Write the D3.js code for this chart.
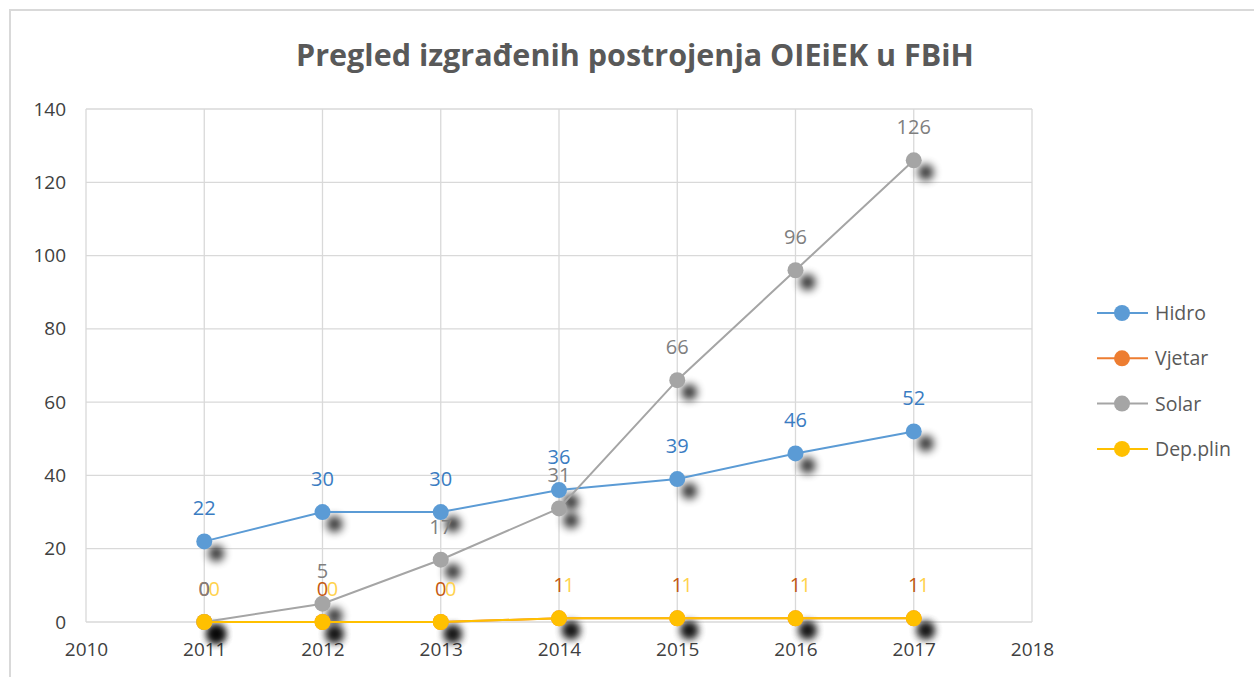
<!DOCTYPE html>
<html><head><meta charset="utf-8">
<script src="https://cdn.jsdelivr.net/npm/d3@7"></script>
<style>body{margin:0;background:#fff}svg{display:block}</style>
</head><body>
<svg id="c" width="1254" height="677"></svg>
<script>
const years = [2011, 2012, 2013, 2014, 2015, 2016, 2017];
const hidro = [22, 30, 30, 36, 39, 46, 52];
const vjetar = [0, 0, 0, 1, 1, 1, 1];
const solar = [0, 5, 17, 31, 66, 96, 126];
const depPlin = [0, 0, 0, 1, 1, 1, 1];
const seriesNames = ["Hidro", "Vjetar", "Solar", "Dep.plin"];
const seriesColors = ["#5b9bd5", "#ed7d31", "#a5a5a5", "#ffc000"];
const labelColors = ["#3a7cc2", "#c55a11", "#7f7f7f", "#ffd24d"];
const xTicks = [2010, 2011, 2012, 2013, 2014, 2015, 2016, 2017, 2018];
const yTicks = [0, 20, 40, 60, 80, 100, 120, 140];
const title = "Pregled izgrađenih postrojenja OIEiEK u FBiH";

const seriesData = [hidro, vjetar, solar, depPlin];
const svg = d3.select("#c");
const font = "'Open Sans', sans-serif";

// chart border
svg.append("path").attr("d", "M10,677 V10 H1254").attr("fill", "none")
  .attr("stroke", "#d9d9d9").attr("stroke-width", 2);

const x = d3.scaleLinear().domain([2010, 2018]).range([86, 1032]);
const y = d3.scaleLinear().domain([0, 140]).range([622, 109]);

const defs = svg.append("defs");
const f = defs.append("filter").attr("id", "sh").attr("x", "-100%").attr("y", "-100%").attr("width", "400%").attr("height", "400%");
f.append("feGaussianBlur").attr("in", "SourceAlpha").attr("stdDeviation", 4).attr("result", "b");
f.append("feOffset").attr("in", "b").attr("dx", 12).attr("dy", 12).attr("result", "o");
f.append("feComponentTransfer").attr("in", "o").append("feFuncA").attr("type", "linear").attr("slope", 0.8);

// gridlines
const g = svg.append("g");
g.selectAll("line.h").data(yTicks).join("line")
  .attr("x1", x(2010)).attr("x2", x(2018)).attr("y1", d => y(d)).attr("y2", d => y(d))
  .attr("stroke", "#d9d9d9").attr("stroke-width", 1.3);
g.selectAll("line.v").data(xTicks).join("line")
  .attr("y1", y(0)).attr("y2", y(140)).attr("x1", d => x(d)).attr("x2", d => x(d))
  .attr("stroke", "#d9d9d9").attr("stroke-width", 1.3);

// axes
const yAxis = d3.axisLeft(y).tickValues(yTicks).tickSize(0).tickPadding(20);
const ya = svg.append("g").attr("transform", `translate(${x(2010)},0)`).call(yAxis);
ya.select(".domain").remove();
ya.selectAll("text").attr("font-family", font).attr("font-size", 19).attr("fill", "#404040");

const xAxis = d3.axisBottom(x).tickValues(xTicks).tickFormat(d3.format("d")).tickSize(0).tickPadding(21);
const xa = svg.append("g").attr("transform", `translate(0,${y(0)})`).call(xAxis);
xa.select(".domain").remove();
xa.selectAll("text").attr("font-family", font).attr("font-size", 19).attr("fill", "#404040");

// title
svg.append("text").attr("x", 635).attr("y", 66).attr("text-anchor", "middle")
  .attr("font-family", font).attr("font-weight", 700).attr("font-size", 30.5)
  .attr("fill", "#595959").text(title);

const line = d3.line().x((d, i) => x(years[i])).y(d => y(d));

// shadows
seriesData.forEach((s, k) => {
  svg.append("g").attr("filter", "url(#sh)").selectAll("circle").data(s).join("circle")
    .attr("cx", (d, i) => x(years[i])).attr("cy", d => y(d)).attr("r", 8).attr("fill", "#000");
});

// lines & markers
seriesData.forEach((s, k) => {
  svg.append("path").datum(s).attr("d", line).attr("fill", "none")
    .attr("stroke", seriesColors[k]).attr("stroke-width", 2);
  svg.append("g").selectAll("circle").data(s).join("circle")
    .attr("cx", (d, i) => x(years[i])).attr("cy", d => y(d)).attr("r", 8)
    .attr("fill", seriesColors[k]);
});

// data labels
const labelOrder = [0, 1, 3, 2];
labelOrder.forEach(k => {
  const dx = k === 3 ? 10 : 0;
  svg.append("g").selectAll("text").data(seriesData[k]).join("text")
    .attr("x", (d, i) => x(years[i]) + dx).attr("y", d => y(d) - 26)
    .attr("text-anchor", "middle").attr("font-family", font).attr("font-size", 20)
    .attr("fill", labelColors[k]).text(d => d);
});

// legend
const leg = svg.append("g");
seriesNames.forEach((n, k) => {
  const ly = 313 + k * 45.3;
  leg.append("line").attr("x1", 1097).attr("x2", 1148).attr("y1", ly).attr("y2", ly)
    .attr("stroke", seriesColors[k]).attr("stroke-width", 2);
  leg.append("circle").attr("cx", 1122).attr("cy", ly).attr("r", 8).attr("fill", seriesColors[k]);
  leg.append("text").attr("x", 1155).attr("y", ly + 7).attr("font-family", font)
    .attr("font-size", 19.5).attr("fill", "#595959").text(n);
});
</script>
</body></html>
